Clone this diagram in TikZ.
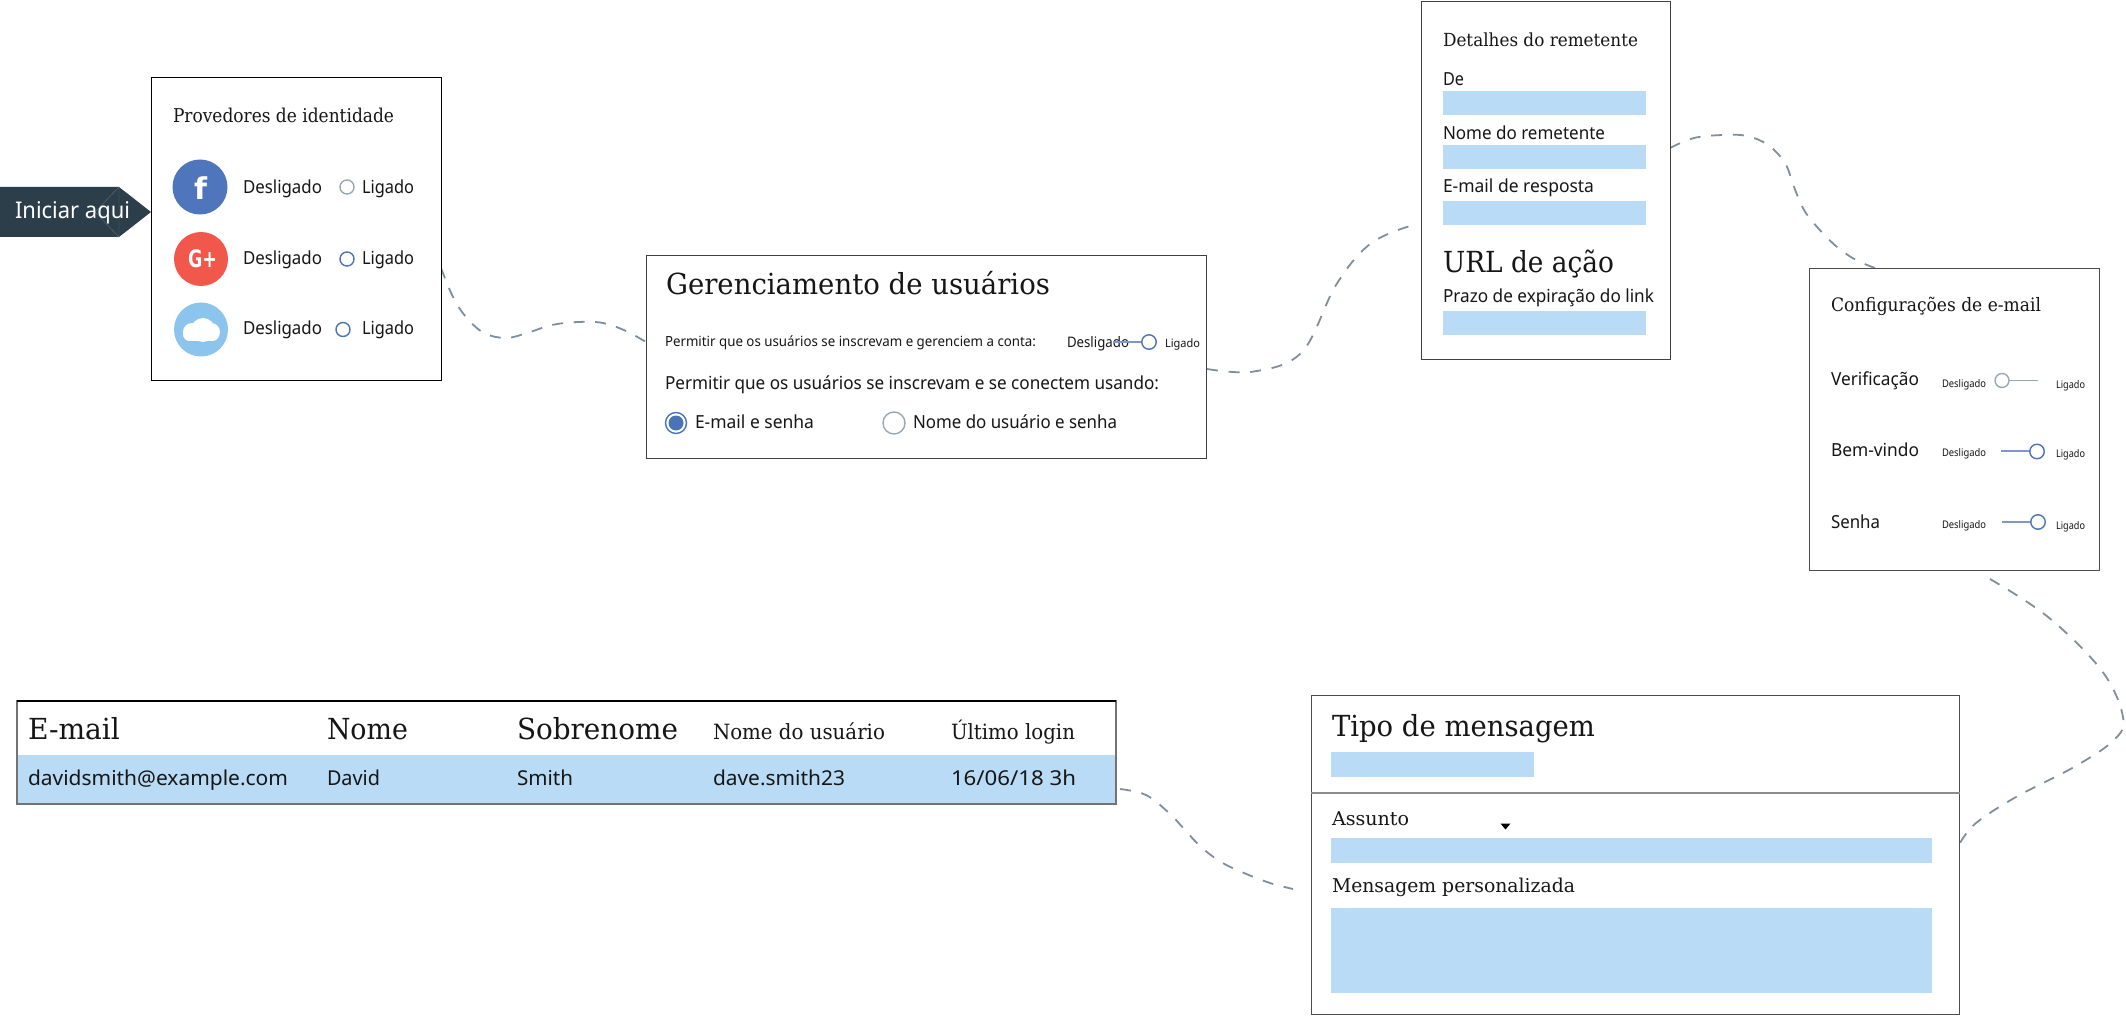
\documentclass[tikz,border=0pt]{standalone}
\usepackage{fontspec}
\usepackage{graphicx}
\setmainfont{Noto Sans}
\newfontfamily\serifface{DejaVu Serif}
\newfontfamily\sansface{Noto Sans}
\newfontfamily\iconface{DejaVu Sans Bold}
\definecolor{inkc}{HTML}{161616}
\definecolor{fieldc}{HTML}{B9DBF5}
\definecolor{darkc}{HTML}{2C3E4A}
\definecolor{linec}{HTML}{808F9B}
\definecolor{onc}{HTML}{4A73B8}
\definecolor{offc}{HTML}{9AA8B4}
\definecolor{barc}{HTML}{7F98CC}
\definecolor{fbc}{HTML}{4F76BC}
\definecolor{gpc}{HTML}{F2574C}
\definecolor{clc}{HTML}{8BC4EC}
\tikzset{
  x=1pt,y=-1pt,
  panel/.style={draw=#1,line width=1.3pt,fill=white,rectangle,anchor=north west,inner sep=0pt},
  panel/.default={black!70},
  flow/.style={draw=linec,line width=1.8pt,dash pattern=on 11pt off #1pt,line cap=butt},
  fieldbox/.style={fill=fieldc,draw=none,rectangle,anchor=north west,inner sep=0pt},
  lab/.style={anchor=base west,inner sep=0pt,outer sep=0pt,text=inkc},
  knob/.style={circle,draw=#1,fill=white,line width=1.4pt,inner sep=0pt},
  disc/.style={circle,fill=#1,inner sep=0pt},
}
% name, x, baseline y, width, font size, family, text
\newcommand{\lbl}[7]{\node[lab,font=#6\fontsize{#5pt}{#5pt}\selectfont] (#1) at (#2,#3) {\resizebox{#4pt}{\height}{#7}};}
\newcommand{\sanslab}[6]{\lbl{#1}{#2}{#3}{#4}{#5}{\sansface}{#6}}
\newcommand{\seriflab}[6]{\lbl{#1}{#2}{#3}{#4}{#5}{\serifface}{#6}}
\newcommand{\fld}[5]{\node[fieldbox,minimum width=#4pt,minimum height=#5pt] (#1) at (#2,#3) {};}
\newcommand{\pnl}[6][]{\node[panel={#6},minimum width=#4pt,minimum height=#5pt,#1] (#2) at #3 {};}
\begin{document}
\begin{tikzpicture}
\useasboundingbox (0,0) rectangle (2126,1016);
\fill[white] (0,0) rectangle (2126,1016);

% free ends of the connectors
\coordinate (c1a) at (441,268); \coordinate (c1b) at (646,342);
\coordinate (c2a) at (1207,369); \coordinate (c2b) at (1410,226);
\coordinate (c3a) at (1670,148); \coordinate (c3b) at (1875,268);
\coordinate (c4a) at (1990,579); \coordinate (c4b) at (1960,843);
\coordinate (c5a) at (1120,789); \coordinate (c5b) at (1293,889);

\draw[flow=10.5] plot[smooth,tension=0.6] coordinates {(c1a) (453,297) (466,317) (484,333) (506,338) (527,333) (552,325) (578,322) (603,323) (626,331) (c1b)};
\draw[flow=10.7] plot[smooth,tension=0.6] coordinates {(c2a) (1254,371.5) (1302,352) (1336,285) (1370,244) (c2b)};
\draw[flow=10.7] plot[smooth,tension=0.6] coordinates {(c3a) (1694,138) (1723,135) (1747,136) (1768,145) (1785,163) (1794,187) (1804,210) (1818,228) (1837,247) (1856,260) (c3b)};
\draw[flow=10] plot[smooth,tension=0.6] coordinates {(c4a) (2048,617) (2102,671) (2123,717) (2114,740) (2074,767) (2016,797) (1976,823) (c4b)};
\draw[flow=10.7] plot[smooth,tension=0.6] coordinates {(c5a) (1146,795) (1169,813) (1185,830) (1201,847) (1221,862) (1244,873) (1270,883) (c5b)};

% start arrow
\fill[darkc] (0,187) -- (119,187) -- (151,212) -- (119,237) -- (0,237) -- cycle;
\draw[white!25!darkc,line width=0.4pt] (95,212) -- (119,187) -- (119,237) -- cycle;
\lbl{start}{15}{219}{115}{23}{\sansface}{\textcolor{white}{Iniciar aqui}}

% identity providers
\pnl{prov}{(151,77)}{290}{303}{black}
\seriflab{provt}{173}{123}{221}{19}{Provedores de identidade}
\node[disc=fbc,minimum size=55pt] (fb) at (200,187) {};
\node[disc=gpc,minimum size=54pt] (gp) at (201,259) {};
\node[disc=clc,minimum size=54pt] (cl) at (201,329.5) {};
\node[inner sep=0pt,text=white,font=\iconface\fontsize{30pt}{30pt}\selectfont,anchor=base] (fbg) at (200.5,200) {\resizebox{13pt}{\height}{f}};
\node[inner sep=0pt,text=white,font=\iconface\fontsize{24pt}{24pt}\selectfont,anchor=base] (gpg) at (202.5,268) {\resizebox{29pt}{\height}{G+}};
\fill[white,rounded corners=6.5pt] (183,327) rectangle (219,341);
\fill[white] (203,330) circle (12);
\fill[white] (192,332) circle (9);
\fill[white] (211,332) circle (9);
\sanslab{d1}{243}{194}{79}{18}{Desligado}
\sanslab{d2}{243}{264.5}{79}{18}{Desligado}
\sanslab{d3}{243}{335}{79}{18}{Desligado}
\sanslab{l1}{362}{194}{52}{18}{Ligado}
\sanslab{l2}{362}{264.5}{52}{18}{Ligado}
\sanslab{l3}{362}{335}{52}{18}{Ligado}
\node[knob=offc,minimum size=14pt] (r1) at (347,187) {};
\node[knob=onc,minimum size=14pt] (r2) at (347,259) {};
\node[knob=onc,minimum size=14pt] (r3) at (343,329.5) {};

% user management
\pnl{ger}{(646,255)}{560}{203}{black!75}
\seriflab{gert}{666}{295}{384}{29}{Gerenciamento de usuários}
\sanslab{ger1}{665}{346.5}{371}{14}{Permitir que os usuários se inscrevam e gerenciem a conta:}
\sanslab{ger2}{1067}{347.5}{62}{14.5}{Desligado}
\draw[barc,line width=1.5pt] (1113,342) -- (1142,342);
\node[knob=onc,minimum size=14.5pt] (gk) at (1149,342) {};
\sanslab{ger3}{1165}{347}{35}{11.5}{Ligado}
\sanslab{ger4}{665}{389}{494}{18}{Permitir que os usuários se inscrevam e se conectem usando:}
\node[knob=onc,minimum size=21pt] (ra) at (676,423) {};
\fill[onc] (ra.center) circle (7.5);
\sanslab{ger5}{695}{428}{119}{18}{E-mail e senha}
\node[knob=offc,minimum size=22pt] (rb) at (894,423) {};
\sanslab{ger6}{913}{428}{204}{18}{Nome do usuário e senha}

% sender details
\pnl{snd}{(1421,1)}{249}{358}{black!75}
\seriflab{sndt}{1443}{47}{195}{18}{Detalhes do remetente}
\sanslab{s1}{1443}{86}{21}{18}{De}
\fld{f1}{1443}{91}{203}{24}
\sanslab{s2}{1443}{140}{162}{18}{Nome do remetente}
\fld{f2}{1443}{145}{203}{24}
\sanslab{s3}{1443}{193}{151}{18}{E-mail de resposta}
\fld{f3}{1443}{201}{203}{24}
\seriflab{s4}{1443}{273}{171}{29}{URL de ação}
\sanslab{s5}{1443}{303}{211}{18}{Prazo de expiração do link}
\fld{f4}{1443}{311}{203}{24}

% e-mail settings
\pnl{cfg}{(1809,268)}{290}{302}{black!70}
\seriflab{cfgt}{1831}{312}{210}{18.5}{Configurações de e-mail}
\sanslab{v1}{1831}{385}{88}{18}{Verificação}
\sanslab{v2}{1831}{456}{88}{18}{Bem-vindo}
\sanslab{v3}{1831}{528}{49}{18}{Senha}
\sanslab{o1}{1942}{387}{44}{10.5}{Desligado}
\sanslab{o2}{1942}{456}{44}{10.5}{Desligado}
\sanslab{o3}{1942}{528}{44}{10.5}{Desligado}
\sanslab{i1}{2056}{388}{29}{10.5}{Ligado}
\sanslab{i2}{2056}{457}{29}{10.5}{Ligado}
\sanslab{i3}{2056}{529}{29}{10.5}{Ligado}
\draw[offc,line width=0.9pt] (2002,380) -- (2038,380);
\node[knob=offc,minimum size=14pt] (k1) at (2002,380.5) {};
\draw[barc,line width=1.5pt] (2001,451) -- (2031,451);
\node[knob=onc,minimum size=14.5pt] (k2) at (2037,451.5) {};
\draw[barc,line width=1.5pt] (2002,522) -- (2032,522);
\node[knob=onc,minimum size=14.5pt] (k3) at (2038,522) {};

% users table
\pnl{tab}{(17,701)}{1098}{102}{black!55}
\fld{row}{17}{755}{1098}{47.5}
\draw[black!55,line width=1.3pt] (tab.north west) rectangle (tab.south east);
\draw[black,line width=1.3pt] (tab.north west) -- (tab.north east);
\seriflab{h1}{28}{739}{92}{29}{E-mail}
\seriflab{h2}{327}{739}{81}{29}{Nome}
\seriflab{h3}{517}{739}{161}{29}{Sobrenome}
\seriflab{h4}{713}{739}{172}{21}{Nome do usuário}
\seriflab{h5}{951}{739}{124}{21}{Último login}
\sanslab{t1}{28}{785}{260}{20.5}{davidsmith@example.com}
\sanslab{t2}{327}{785}{53}{20.5}{David}
\sanslab{t3}{517}{785}{56}{20.5}{Smith}
\sanslab{t4}{713}{785}{132}{20.5}{dave.smith23}
\sanslab{t5}{951}{785}{125}{20.5}{16/06/18 3h}

% message
\pnl{msg}{(1311,695)}{648}{319}{black!70}
\seriflab{msgt}{1332}{736}{263}{29}{Tipo de mensagem}
\fld{m1}{1331}{752}{203}{25}
\coordinate (mdl) at (msg.west |- 0,793);
\coordinate (mdr) at (msg.east |- 0,793);
\draw[black!45,line width=2pt] (mdl) -- (mdr);
\seriflab{m2}{1332}{825.5}{77}{19}{Assunto}
\fill[black] (1500.5,823.5) -- (1510.5,823.5) -- (1505.5,829.5) -- cycle;
\fld{m3}{1331}{838}{601}{25}
\seriflab{m4}{1332}{892}{243}{19}{Mensagem personalizada}
\fld{m5}{1331}{908}{601}{85}
\end{tikzpicture}
\end{document}
